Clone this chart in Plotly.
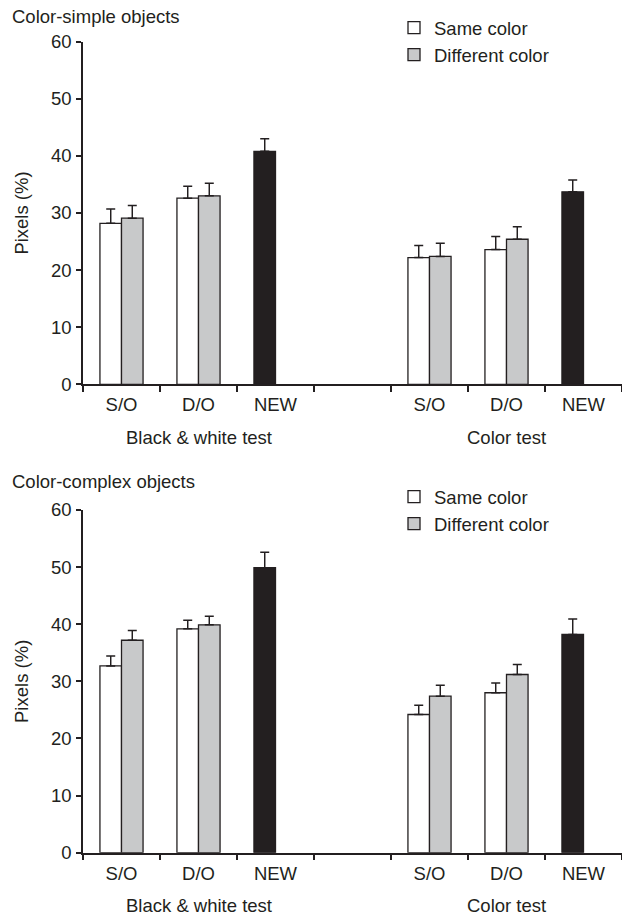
import plotly.graph_objects as go

# ---- data ----
categories = ["bw_so", "bw_do", "bw_new", "gap", "c_so", "c_do", "c_new"]
tick_labels = ["S/O", "D/O", "NEW", "", "S/O", "D/O", "NEW"]
group_labels = ["Black & white test", "Color test"]
group_centers = ["bw_do", "c_do"]

# Color-simple objects
simple_same = [28.2, 32.6, None, None, 22.2, 23.6, None]
simple_same_err = [2.5, 2.1, 0, 0, 2.1, 2.3, 0]
simple_diff = [29.1, 33.0, None, None, 22.4, 25.4, None]
simple_diff_err = [2.2, 2.2, 0, 0, 2.3, 2.2, 0]
simple_new = [None, None, 40.8, None, None, None, 33.7]
simple_new_err = [0, 0, 2.2, 0, 0, 0, 2.1]

# Color-complex objects
complex_same = [32.7, 39.2, None, None, 24.2, 28.0, None]
complex_same_err = [1.75, 1.5, 0, 0, 1.6, 1.7, 0]
complex_diff = [37.2, 39.9, None, None, 27.4, 31.2, None]
complex_diff_err = [1.7, 1.5, 0, 0, 1.9, 1.75, 0]
complex_new = [None, None, 49.9, None, None, None, 38.2]
complex_new_err = [0, 0, 2.7, 0, 0, 0, 2.7]

panel_titles = ["Color-simple objects", "Color-complex objects"]
series_names = ["Same color", "Different color"]
y_ticks = [0, 10, 20, 30, 40, 50, 60]

# ---- style ----
INK = "#231f20"
WHITE = "#ffffff"
GRAY = "#c8c9ca"
FONT = "Liberation Sans, Arial, Helvetica, sans-serif"
FS = 18.5
W, H = 622, 915

fig = go.Figure()


def err(arr):
    return dict(type="data", symmetric=False, array=arr, arrayminus=[0] * len(arr),
                color=INK, thickness=1.5, width=4.5)


def add_panel(same, same_e, diff, diff_e, new, new_e, xa, ya, legend):
    fig.add_trace(go.Bar(x=categories, y=same, name=series_names[0], error_y=err(same_e),
                         marker=dict(color=WHITE, line=dict(color=INK, width=1.3)),
                         offsetgroup="a", xaxis=xa, yaxis=ya, legend=legend))
    fig.add_trace(go.Bar(x=categories, y=diff, name=series_names[1], error_y=err(diff_e),
                         marker=dict(color=GRAY, line=dict(color=INK, width=1.3)),
                         offsetgroup="b", xaxis=xa, yaxis=ya, legend=legend))
    fig.add_trace(go.Bar(x=categories, y=new, name="New", error_y=err(new_e),
                         marker=dict(color=INK, line=dict(color=INK, width=1.3)),
                         offsetgroup="a", xaxis=xa, yaxis=ya, showlegend=False))


add_panel(simple_same, simple_same_err, simple_diff, simple_diff_err, simple_new, simple_new_err,
          "x", "y", "legend")
add_panel(complex_same, complex_same_err, complex_diff, complex_diff_err, complex_new, complex_new_err,
          "x2", "y2", "legend2")

x_dom = [83 / W, 1.0]
top_dom = [(H - 384.3) / H, (H - 41.7) / H]
bot_dom = [(H - 852.7) / H, (H - 510.0) / H]

xcommon = dict(type="category", categoryorder="array", categoryarray=categories,
               tickvals=categories, ticktext=tick_labels, tickson="boundaries",
               range=[-0.5, 6.5], domain=x_dom, showline=True, linecolor=INK, linewidth=1.5,
               ticks="outside", ticklen=6, tickwidth=1.5, tickcolor=INK, showgrid=False,
               zeroline=False, fixedrange=True, ticklabelstandoff=3, automargin=False,
               tickfont=dict(size=FS, color=INK, family=FONT))
ycommon = dict(range=[0, 60], tickvals=y_ticks, showline=True, linecolor=INK, linewidth=1.5,
               ticks="outside", ticklen=5, tickwidth=1.5, tickcolor=INK, showgrid=False,
               zeroline=False, tickfont=dict(size=FS, color=INK, family=FONT), automargin=False,
               ticklabelstandoff=1,
               title=dict(text="Pixels (%)", font=dict(size=FS, color=INK, family=FONT), standoff=17))

# overlay axes to make x ticks cross the axis line
xover = dict(range=[-0.5, 6.5], domain=x_dom, tickvals=[0.5, 1.5, 2.5, 3.5, 4.5, 5.5],
             ticks="inside", ticklen=6, tickwidth=1.5, tickcolor=INK, showticklabels=False,
             showline=False, showgrid=False, zeroline=False, automargin=False)

fig.update_layout(
    width=W, height=H,
    margin=dict(l=0, r=0, t=0, b=0, autoexpand=False),
    paper_bgcolor="white", plot_bgcolor="white",
    font=dict(family=FONT, color=INK, size=FS),
    barmode="group", bargap=0.44, bargroupgap=0,
    xaxis=dict(**xcommon, anchor="y"),
    yaxis=dict(**ycommon, domain=top_dom, anchor="x"),
    xaxis2=dict(**xcommon, anchor="y2"),
    yaxis2=dict(**ycommon, domain=bot_dom, anchor="x2"),
    xaxis3=dict(**xover, overlaying="x", anchor="y"),
    xaxis4=dict(**xover, overlaying="x2", anchor="y2"),
    legend=dict(x=394 / W, y=(H - 9) / H, xanchor="left", yanchor="top",
                bgcolor="rgba(0,0,0,0)", font=dict(size=FS, color=INK, family=FONT),
                tracegroupgap=0),
    legend2=dict(x=394 / W, y=(H - 478) / H, xanchor="left", yanchor="top",
                 bgcolor="rgba(0,0,0,0)", font=dict(size=FS, color=INK, family=FONT),
                 tracegroupgap=0),
    showlegend=True,
)

annotations = [
    dict(text=panel_titles[0], xref="paper", yref="paper", x=10 / W, y=(H - 17) / H,
         xanchor="left", yanchor="middle", showarrow=False, font=dict(size=FS, color=INK)),
    dict(text=panel_titles[1], xref="paper", yref="paper", x=10 / W, y=(H - 482) / H,
         xanchor="left", yanchor="middle", showarrow=False, font=dict(size=FS, color=INK)),
]
for xa, ya in (("x", "y"), ("x2", "y2")):
    for lbl, c in zip(group_labels, group_centers):
        annotations.append(dict(text=lbl, xref=xa, yref=f"{ya} domain", x=c, y=0,
                                xanchor="center", yanchor="middle", yshift=-53,
                                showarrow=False, font=dict(size=FS, color=INK)))
fig.update_layout(annotations=annotations)

fig.write_html(
    "out.html",
    config={"displayModeBar": False},
    post_script="document.body.style.margin='0';document.body.style.overflow='hidden';",
)
